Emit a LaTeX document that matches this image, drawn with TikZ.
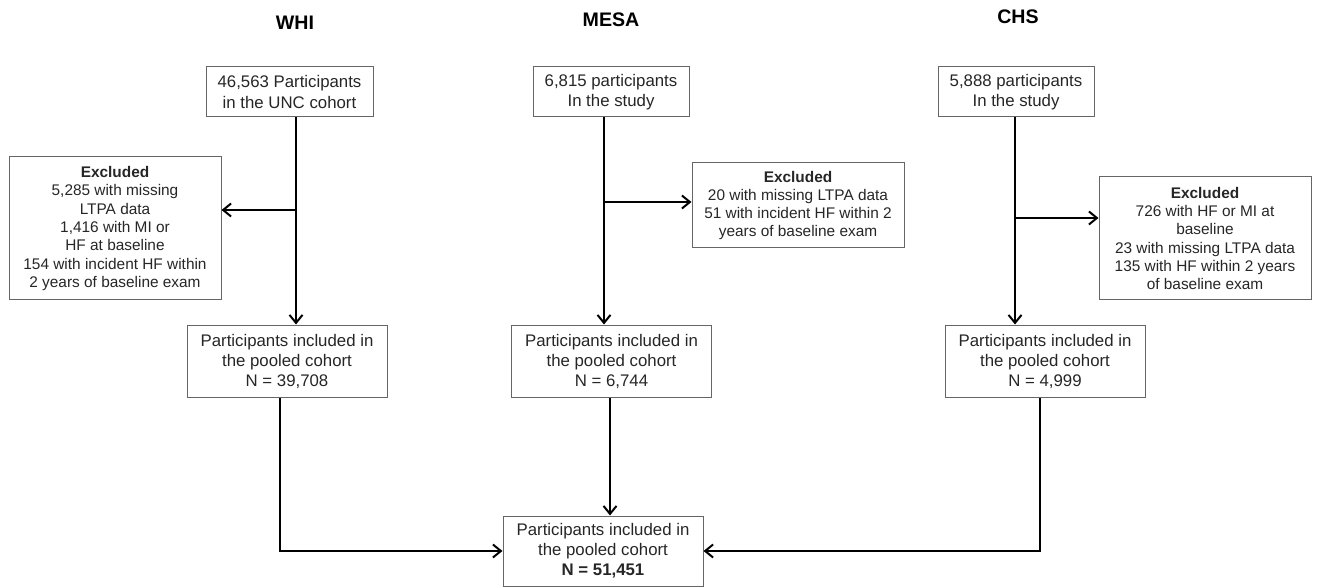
\documentclass[tikz,border=0pt]{standalone}
\usepackage{fontspec}
\setmainfont{Liberation Sans}
\usetikzlibrary{arrows.meta}

\tikzset{
  box/.style={draw=black!60, line width=0.5pt, align=center, inner sep=0pt,
    text=black!85, font=\fontsize{8.4}{10}\selectfont},
  topbox/.style={box, minimum width=78pt, minimum height=25pt},
  poolbox/.style={box, minimum width=100pt, minimum height=36pt},
  exbox/.style={box, font=\fontsize{7.7}{9.15}\selectfont, minimum width=106pt},
  title/.style={font=\fontsize{9.8}{12}\selectfont\bfseries},
  flow/.style={line width=1pt, -{Straight Barb[length=4pt,width=6.5pt]}},
}

\begin{document}
\begin{tikzpicture}[x=0.5pt,y=-0.5pt]
  \useasboundingbox (0,0) rectangle (1320,587);

  % cohort titles
  \node[title] (whit) at (295,23) {WHI};
  \node[title] (mesat) at (611,20) {MESA};
  \node[title] (chst) at (1018,17) {CHS};

  % starting samples
  \node[topbox, minimum width=83.5pt] (whi1) at (289.5,92) {46,563 Participants\\in the UNC cohort};
  \node[topbox] (mesa1) at (611,92) {6,815 participants\\In the study};
  \node[topbox] (chs1) at (1016,92) {5,888 participants\\In the study};

  % exclusions
  \node[exbox, minimum height=71.5pt] (whiex) at (115,228.5)
    {\textbf{Excluded}\\5,285 with missing\\LTPA data\\1,416 with MI or\\HF at baseline\\154 with incident HF within\\2 years of baseline exam};
  \node[exbox, minimum height=42.5pt] (mesaex) at (798,205.5)
    {\textbf{Excluded}\\20 with missing LTPA data\\51 with incident HF within 2\\years of baseline exam};
  \node[exbox, minimum height=61.5pt] (chsex) at (1205,238.5)
    {\textbf{Excluded}\\726 with HF or MI at\\baseline\\23 with missing LTPA data\\135 with HF within 2 years\\of baseline exam};

  % included per cohort
  \node[poolbox] (whi2) at (287,361) {Participants included in\\the pooled cohort\\N = 39,708};
  \node[poolbox] (mesa2) at (611.5,361) {Participants included in\\the pooled cohort\\N = 6,744};
  \node[poolbox] (chs2) at (1045,361) {Participants included in\\the pooled cohort\\N = 4,999};

  % pooled
  \node[poolbox, minimum height=35pt] (pool) at (603,551) {Participants included in\\the pooled cohort\\\textbf{N = 51,451}};

  \coordinate (wsplit) at (296,210);
  \coordinate (msplit) at (604,202);
  \coordinate (csplit) at (1015,218);
  \coordinate (wdown) at (280,550);
  \coordinate (mdown) at (610,450);
  \coordinate (cdown) at (1040,550);

  \draw[flow] (whi1.south -| wsplit) -- (whi2.north -| wsplit);
  \draw[flow] (wsplit) -- (whiex.east |- wsplit);
  \draw[flow] (mesa1.south -| msplit) -- (mesa2.north -| msplit);
  \draw[flow] (msplit) -- (mesaex.west |- msplit);
  \draw[flow] (chs1.south -| csplit) -- (chs2.north -| csplit);
  \draw[flow] (csplit) -- (chsex.west |- csplit);

  \draw[flow] (whi2.south -| wdown) |- (pool.west);
  \draw[flow] (mesa2.south -| mdown) -- (pool.north -| mdown);
  \draw[flow] (chs2.south -| cdown) |- (pool.east);
\end{tikzpicture}
\end{document}
